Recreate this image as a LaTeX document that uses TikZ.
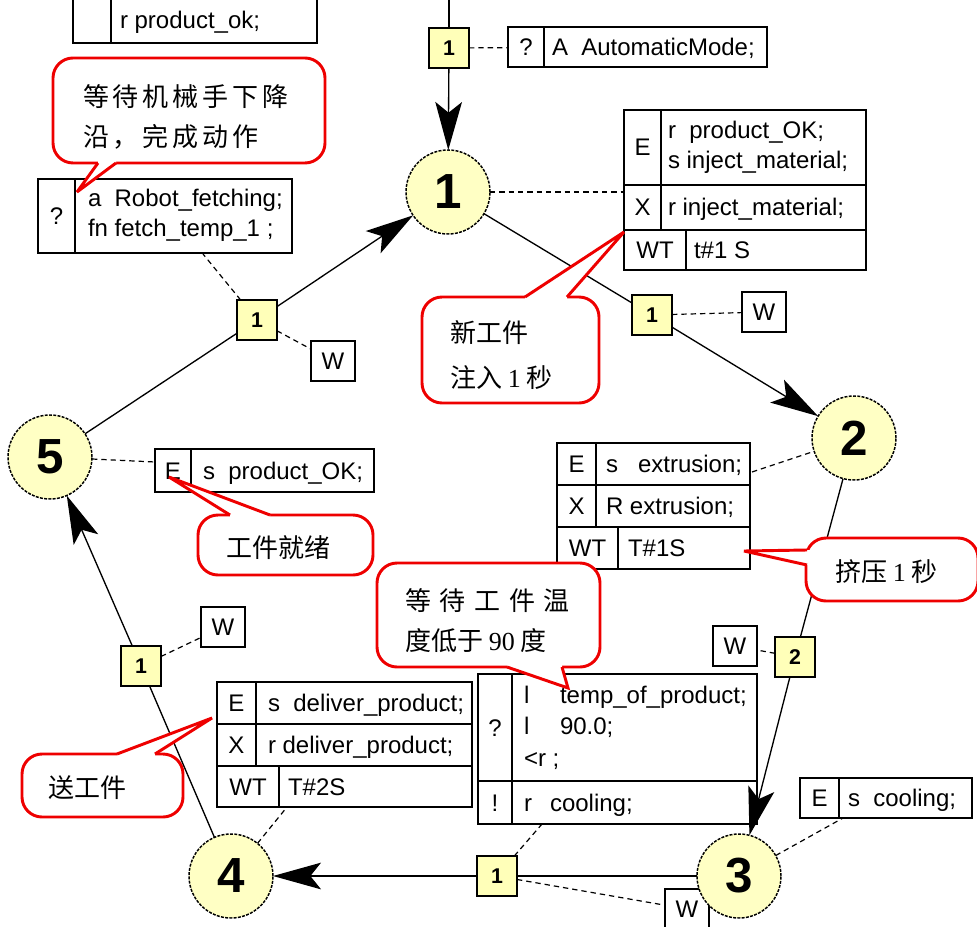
\documentclass[tikz,border=0pt]{standalone}
\usepackage{fontspec}
\setmainfont{Liberation Sans}
\newfontfamily\cjkfont{Noto Sans CJK SC}
\newfontfamily\numfont{Liberation Serif}
\usetikzlibrary{arrows.meta}
\definecolor{stepfill}{RGB}{255,255,196}
\definecolor{transfill}{RGB}{255,255,185}
\definecolor{notered}{RGB}{238,0,0}
\pgfdeclarelayer{boxlayer}
\pgfdeclarelayer{linelayer}
\pgfdeclarelayer{notelayer}
\pgfsetlayers{boxlayer,linelayer,main,notelayer}
\begin{document}
\begin{tikzpicture}[x=0.75pt,y=-0.75pt,
  every node/.style={inner sep=0pt,outer sep=0pt},
  stepnode/.style={circle,draw=black,line width=1.1pt,dash pattern=on 2.2pt off 1pt,fill=stepfill,minimum size=63pt,font=\fontsize{37}{37}\selectfont\bfseries},
  transnode/.style={rectangle,draw=black,line width=1.1pt,fill=transfill,minimum size=30pt,font=\fontsize{16}{16}\selectfont\bfseries},
  wnode/.style={rectangle,draw=black,line width=1.1pt,fill=white,minimum width=33pt,minimum height=30pt,font=\fontsize{18}{18}\selectfont},
  actbox/.style={rectangle,draw=black,line width=1.1pt,fill=white,anchor=north west},
  wh/.style 2 args={minimum width={#1*0.75pt},minimum height={#2*0.75pt}},
  rule/.style={line width=1.1pt},
  btext/.style={anchor=base west,font=\fontsize{18}{18}\selectfont},
  bmid/.style={anchor=base,font=\fontsize{18}{18}\selectfont},
  flow/.style={line width=1pt},
  arr/.style={-{Stealth[length=36pt,width=20pt,inset=8pt]}},
  assoc/.style={line width=0.9pt,dash pattern=on 4pt off 3pt},
  note/.style={rectangle,rounded corners=15pt,draw=notered,line width=2.2pt,fill=white,anchor=north west},
  notetext/.style={anchor=base west,font=\cjkfont\fontsize{19.5}{19.5}\selectfont},
  tailline/.style={draw=notered,line width=2.2pt,line join=miter,miter limit=5},
]
\useasboundingbox (0,0) rectangle (977,927);

% ---------- steps and transitions ----------
\node[stepnode] (s1) at (448,192) {1};
\node[stepnode] (s2) at (854,438) {2};
\node[stepnode] (s3) at (739,876) {3};
\node[stepnode] (s4) at (231,876) {4};
\node[stepnode] (s5) at (50,457) {5};

\node[transnode] (t0) at (449,48) {1};
\node[transnode] (t1) at (652,315) {1};
\node[transnode] (t2) at (795,657) {2};
\node[transnode] (t3) at (497,876) {1};
\node[transnode] (t4) at (141,666) {1};
\node[transnode] (t5) at (257,320) {1};

% ---------- action blocks and wait boxes ----------
\begin{pgfonlayer}{boxlayer}
  \node[wnode] (w1) at (764,312) {W};
  \node[wnode] (w2) at (735,646) {W};
  \node[wnode] (w3) at (687,909) {W};
  \node[wnode] (w4) at (223,627) {W};
  \node[wnode] (w5) at (333,361) {W};

  % condition of the entry transition
  \node[actbox,wh={259}{40}] (ab0) at (508,27) {};
  \draw[rule] (544,27) -- (544,67);
  \node[bmid] (ab0q) at (526,55.5) {?};
  \node[btext] (ab0a) at (552,55.5) {A\ \ AutomaticMode;};

  % actions of step 1
  \node[actbox,wh={242}{160}] (ab1) at (624,110) {};
  \draw[rule] (661,110) -- (661,230) (624,185) -- (866,185)
              (624,230) -- (866,230) (686,230) -- (686,270);
  \node[bmid] (ab1e) at (642.5,156) {E};
  \node[btext] (ab1a) at (668,139) {r\ \ product\_OK;};
  \node[btext] (ab1b) at (668,169) {s inject\_material;};
  \node[bmid] (ab1x) at (642.5,216) {X};
  \node[btext] (ab1c) at (668,216) {r inject\_material;};
  \node[bmid] (ab1w) at (655,258.5) {WT};
  \node[btext] (ab1d) at (694,258.5) {t\#1 S};

  % actions of step 2
  \node[actbox,wh={193}{126}] (ab2) at (557,443) {};
  \draw[rule] (596,443) -- (596,527) (557,485) -- (750,485)
              (557,527) -- (750,527) (618,527) -- (618,569);
  \node[bmid] (ab2e) at (576.5,472.5) {E};
  \node[btext] (ab2a) at (606,472.5) {s\ \ \ extrusion;};
  \node[bmid] (ab2x) at (576.5,514.5) {X};
  \node[btext] (ab2b) at (606,514.5) {R extrusion;};
  \node[bmid] (ab2w) at (587.5,556.5) {WT};
  \node[btext] (ab2c) at (628,556.5) {T\#1S};

  % actions of step 3
  \node[actbox,wh={172}{40}] (ab3) at (800,778) {};
  \draw[rule] (839,778) -- (839,818);
  \node[bmid] (ab3e) at (819.5,806.5) {E};
  \node[btext] (ab3a) at (848,806.5) {s\ \ cooling;};

  % condition block of the transition 3 -> 4
  \node[actbox,wh={279}{150}] (ab4) at (478,674) {};
  \draw[rule] (512,674) -- (512,824) (478,781) -- (757,781);
  \node[bmid] (ab4q) at (495,736) {?};
  \node[btext] (ab4l1) at (524,703) {l};
  \node[btext] (ab4a) at (560,703) {temp\_of\_product;};
  \node[btext] (ab4l2) at (524,734) {l};
  \node[btext] (ab4b) at (560,734) {90.0;};
  \node[btext] (ab4c) at (524,766) {<r ;};
  \node[bmid] (ab4n) at (495,811) {!};
  \node[btext] (ab4r) at (524,811) {r};
  \node[btext] (ab4d) at (550,811) {cooling;};

  % actions of step 4
  \node[actbox,wh={255}{125}] (ab5) at (217,682) {};
  \draw[rule] (256,682) -- (256,766) (217,724) -- (472,724)
              (217,766) -- (472,766) (279,766) -- (279,807);
  \node[bmid] (ab5e) at (236.5,711.5) {E};
  \node[btext] (ab5a) at (268,711.5) {s\ \ deliver\_product;};
  \node[bmid] (ab5x) at (236.5,753.5) {X};
  \node[btext] (ab5b) at (268,753.5) {r deliver\_product;};
  \node[bmid] (ab5w) at (248,795) {WT};
  \node[btext] (ab5c) at (288,795) {T\#2S};

  % actions of step 5
  \node[actbox,wh={219}{43}] (ab6) at (155,449) {};
  \draw[rule] (191,449) -- (191,492);
  \node[bmid] (ab6e) at (173,479) {E};
  \node[btext] (ab6a) at (203,479) {s\ \ product\_OK;};

  % condition block of the transition 5 -> 1
  \node[actbox,wh={254}{74}] (ab7) at (38,179) {};
  \draw[rule] (75,179) -- (75,253);
  \node[bmid] (ab7q) at (56.5,224.5) {?};
  \node[btext] (ab7a) at (88,206.5) {a\ \ Robot\_fetching;};
  \node[btext] (ab7b) at (88,236.5) {fn fetch\_temp\_1 ;};

  % tail of a block continued from above
  \node[actbox,wh={244}{53}] (ab8) at (73,-10) {};
  \draw[rule] (111,-10) -- (111,43);
  \node[btext] (ab8a) at (120,29) {r product\_ok;};
\end{pgfonlayer}

% ---------- connectors ----------
\coordinate (entry) at (449,-5);
\coordinate (a1) at (624,192);
\coordinate (a2) at (752,472);
\coordinate (a3) at (843,818);
\coordinate (a4) at (542,824);
\coordinate (a5) at (287,807);
\coordinate (a6) at (155,462);
\coordinate (a7) at (203,254);

\begin{pgfonlayer}{linelayer}
  \draw[flow] (entry) -- (t0);
  \draw[flow,arr] (t0) -- (s1);
  \draw[flow] (s1) -- (t1);
  \draw[flow,arr] (t1) -- (s2);
  \draw[flow] (s2) -- (t2);
  \draw[flow,arr] (t2) -- (s3);
  \draw[flow] (s3) -- (t3);
  \draw[flow,arr] (t3) -- (s4);
  \draw[flow] (s4) -- (t4);
  \draw[flow,arr] (t4) -- (s5);
  \draw[flow] (s5) -- (t5);
  \draw[flow,arr] (t5) -- (s1);

  \draw[assoc] (t0) -- (ab0);
  \draw[assoc] (s1) -- (a1);
  \draw[assoc] (t1) -- (w1);
  \draw[assoc] (a2) -- (s2);
  \draw[assoc] (t2) -- (w2);
  \draw[assoc] (s3) -- (a3);
  \draw[assoc] (t3) -- (w3);
  \draw[assoc] (t3) -- (a4);
  \draw[assoc] (s4) -- (a5);
  \draw[assoc] (t4) -- (w4);
  \draw[assoc] (s5) -- (a6);
  \draw[assoc] (t5) -- (w5);
  \draw[assoc] (t5) -- (a7);
\end{pgfonlayer}

% ---------- comment balloons ----------
\coordinate (p1) at (77,192);
\coordinate (p2) at (624,232);
\coordinate (p3) at (744,551);
\coordinate (p4) at (568,688);
\coordinate (p5) at (169,477);
\coordinate (p6) at (212,718);

\begin{pgfonlayer}{notelayer}
  \node[note,wh={272}{105}] (n1) at (53,58) {};
  \fill[white] (98,163) -- (p1) -- (116,163) -- (116,159) -- (98,159) -- cycle;
  \draw[tailline] (98,163) -- (p1) -- (116,163);
  \node[notetext] (n1a) at (83,107) {\addfontfeature{LetterSpace=15}等待机械手下降};
  \node[notetext] (n1b) at (83,147) {\addfontfeature{LetterSpace=15}沿，完成动作};

  \node[note,wh={177}{106}] (n2) at (422,297) {};
  \fill[white] (525,297) -- (p2) -- (567,297) -- (567,301) -- (525,301) -- cycle;
  \draw[tailline] (525,297) -- (p2) -- (567,297);
  \node[notetext] (n2a) at (450,342) {新工件};
  \node[notetext] (n2b) at (450,387) {注入 {\numfont 1} 秒};

  \node[note,wh={172}{63}] (n3) at (806,538) {};
  \fill[white] (807,550) -- (p3) -- (807,565) -- (811,565) -- (811,550) -- cycle;
  \draw[tailline] (807,550) -- (p3) -- (807,565);
  \node[notetext] (n3a) at (835,581) {挤压 {\numfont 1} 秒};

  \node[note,wh={223}{104}] (n4) at (377,563) {};
  \fill[white] (507,667) -- (p4) -- (562,667) -- (562,663) -- (507,663) -- cycle;
  \draw[tailline] (507,667) -- (p4) -- (562,667);
  \node[notetext] (n4a) at (405,610) {等\hspace{6.5pt}待\hspace{6.5pt}工\hspace{6.5pt}件\hspace{6.5pt}温};
  \node[notetext] (n4b) at (405,650) {度低于 {\numfont 90} 度};

  \node[note,wh={175}{60}] (n5) at (198,515) {};
  \fill[white] (230,515) -- (p5) -- (270,515) -- (270,519) -- (230,519) -- cycle;
  \draw[tailline] (230,515) -- (p5) -- (270,515);
  \node[notetext] (n5a) at (226,557) {工件就绪};

  \node[note,wh={161}{63}] (n6) at (22,754) {};
  \fill[white] (117,754) -- (p6) -- (155,754) -- (155,758) -- (117,758) -- cycle;
  \draw[tailline] (117,754) -- (p6) -- (155,754);
  \node[notetext] (n6a) at (48,797) {送工件};
\end{pgfonlayer}
\end{tikzpicture}
\end{document}
